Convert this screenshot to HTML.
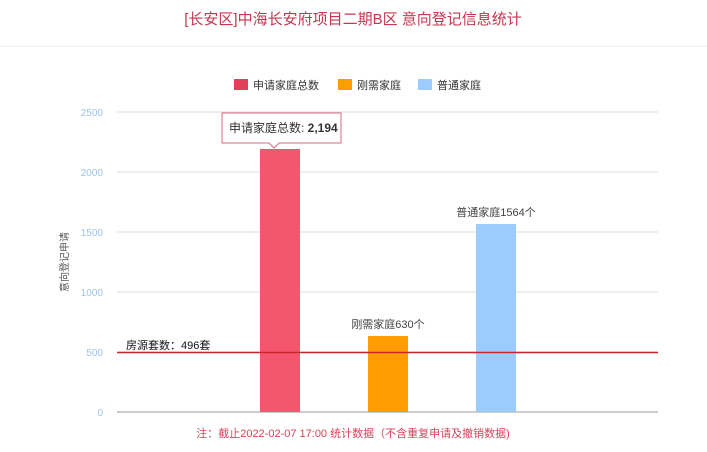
<!DOCTYPE html><html><head><meta charset="utf-8"><style>
body{margin:0;width:707px;height:452px;background:#fff;overflow:hidden;font-family:"Liberation Sans","Noto Sans CJK SC",sans-serif}
</style></head><body>
<svg width="707" height="452" style="position:absolute;left:0;top:0" font-family="Liberation Sans, Noto Sans CJK SC, sans-serif">
<text x="353" y="24" text-anchor="middle" font-size="15" fill="#c7354f">[长安区]中海长安府项目二期B区 意向登记信息统计</text>
<line x1="0" y1="46" x2="707" y2="46" stroke="#eee"/>
<rect x="234" y="79" width="14" height="11" fill="#e0405a"/><text x="253" y="89" font-size="11" fill="#333">申请家庭总数</text>
<rect x="338" y="79" width="14" height="11" fill="#ff9c00"/><text x="357" y="89" font-size="11" fill="#333">刚需家庭</text>
<rect x="418" y="79" width="14" height="11" fill="#9ccbff"/><text x="437" y="89" font-size="11" fill="#333">普通家庭</text>
<g stroke="#ddd"><line x1="117" y1="112" x2="658" y2="112"/><line x1="117" y1="172" x2="658" y2="172"/><line x1="117" y1="232" x2="658" y2="232"/><line x1="117" y1="292" x2="658" y2="292"/><line x1="117" y1="352" x2="658" y2="352"/></g>
<line x1="117" y1="412" x2="658" y2="412" stroke="#ccc" stroke-width="2"/>
<g font-size="10" fill="#9cc3e8" text-anchor="end"><text x="103" y="116">2500</text><text x="103" y="176">2000</text><text x="103" y="236">1500</text><text x="103" y="296">1000</text><text x="103" y="356">500</text><text x="103" y="416">0</text></g>
<text transform="translate(68,262) rotate(-90)" text-anchor="middle" font-size="10" fill="#555">意向登记申请</text>
<rect x="260" y="149" width="40" height="263" fill="#f5566f"/>
<rect x="368" y="336" width="40" height="76" fill="#ff9c00"/>
<rect x="476" y="224" width="40" height="188" fill="#9ccbff"/>
<text x="388" y="328" text-anchor="middle" font-size="11" fill="#444">刚需家庭630个</text>
<text x="496" y="216" text-anchor="middle" font-size="11" fill="#444">普通家庭1564个</text>
<line x1="117" y1="352.5" x2="658" y2="352.5" stroke="#c9232d" stroke-width="1.5"/>
<text x="126" y="349" font-size="11" fill="#111">房源套数：496套</text>
<path d="M222 113h119v30h-62l-5 5-5-5h-47z" fill="#fff" stroke="#d66880" stroke-width="1"/>
<text x="229" y="132" font-size="12" fill="#333">申请家庭总数: <tspan font-weight="bold">2,194</tspan></text>
<text x="353" y="437" text-anchor="middle" font-size="11" fill="#d9435a">注：截止2022-02-07 17:00 统计数据（不含重复申请及撤销数据)</text>
</svg></body></html>
